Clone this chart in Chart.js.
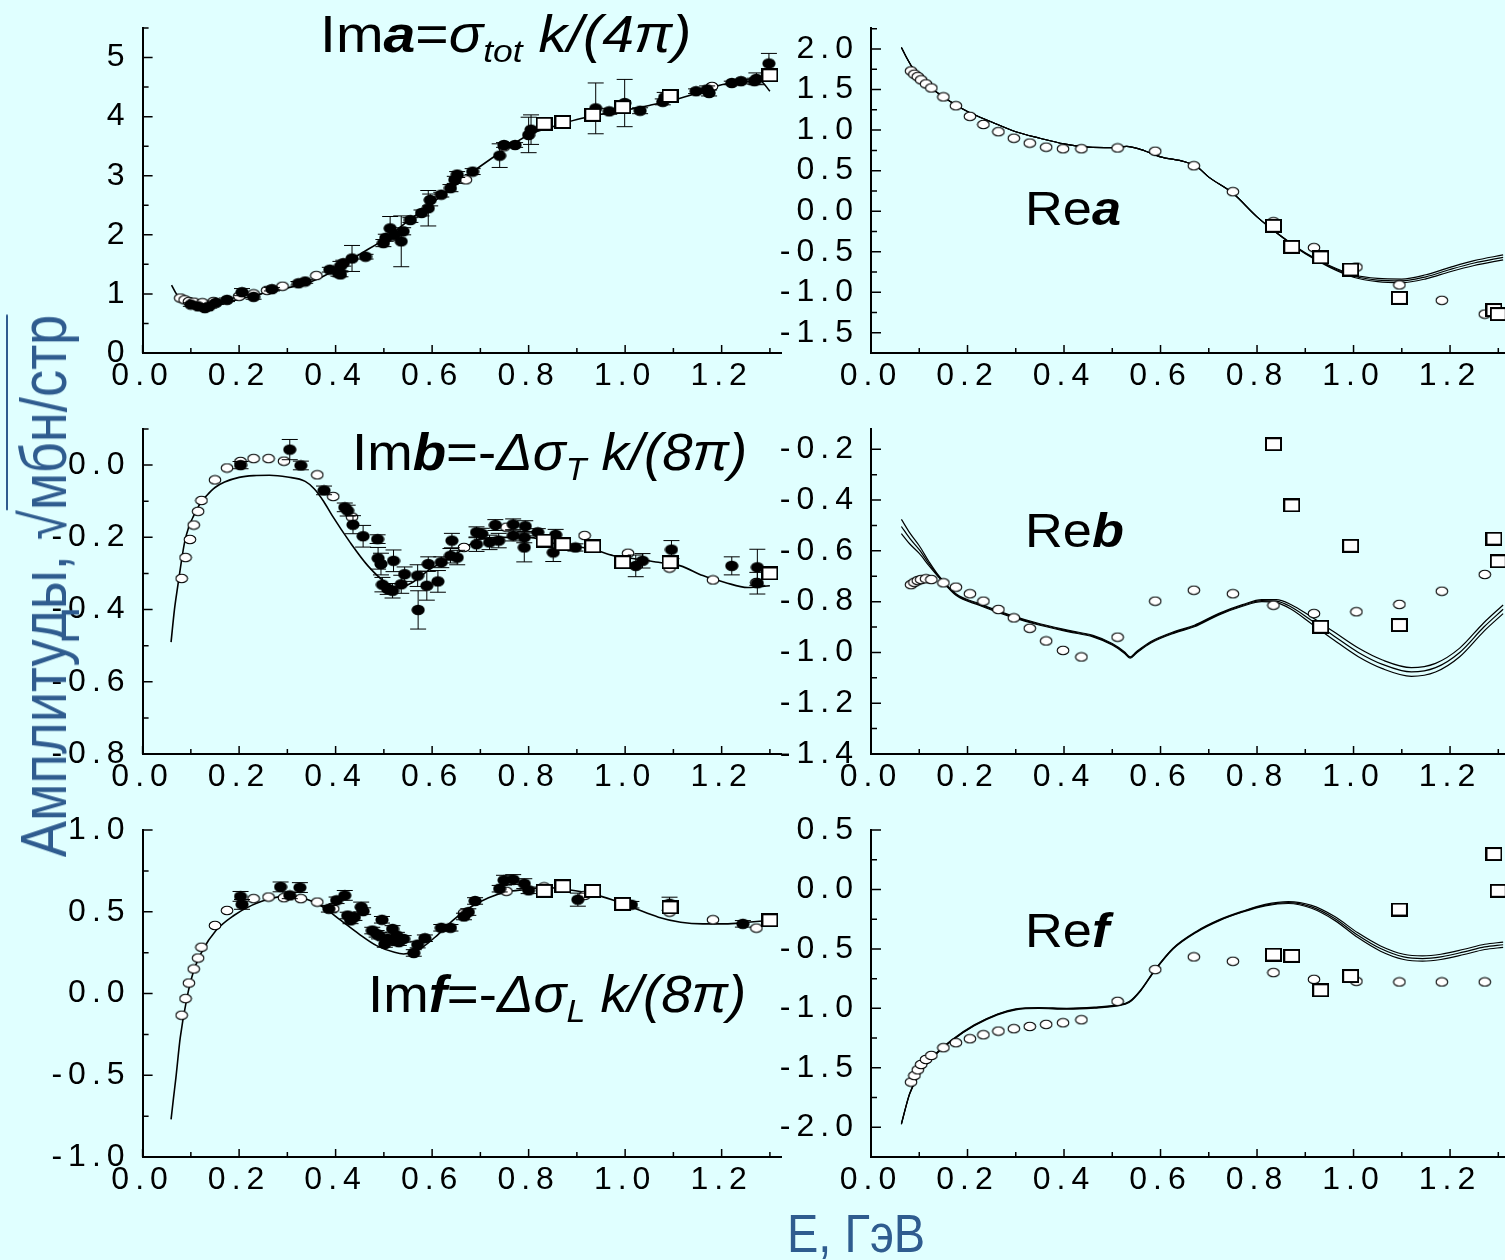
<!DOCTYPE html>
<html>
<head>
<meta charset="utf-8">
<script src="https://cdn.jsdelivr.net/npm/chart.js@4.4.1/dist/chart.umd.min.js"></script>
<style>
html, body { margin: 0; padding: 0; width: 1505px; height: 1260px; overflow: hidden; background: #E0FFFF; }
canvas.panel { position: absolute; left: 0; top: 0; }
.ttl { position: absolute; z-index: 5; font: 52px "Liberation Sans", Arial, sans-serif; line-height: 1; white-space: nowrap; color: #000; transform-origin: 0 0; transform: scaleX(1.05); }
.ttl.wide { transform: scaleX(1.1); }
.ttl.re { font-size: 48px; transform: scaleX(1.09); }
.ttl sub { font-size: 0.62em; vertical-align: -0.32em; line-height: 0; }
.blue { position: absolute; z-index: 5; font-family: "Liberation Sans", Arial, sans-serif; line-height: 1; white-space: nowrap; color: #2F5C8F; }
</style>
</head>
<body>

<div class="ttl wide" style="left:320px;top:8px">Im<b><i>a</i></b>=<i>σ<sub>tot</sub></i> <i>k/(4π)</i></div>
<div class="ttl re" style="left:1025px;top:185px">Re<b><i>a</i></b></div>
<div class="ttl" style="left:352px;top:426px">Im<b><i>b</i></b>=-<i>Δσ<sub>T</sub></i> <i>k/(8π)</i></div>
<div class="ttl re" style="left:1025px;top:507px">Re<b><i>b</i></b></div>
<div class="ttl" style="left:368px;top:968px">Im<b><i>f</i></b>=-<i>Δσ<sub>L</sub></i> <i>k/(8π)</i></div>
<div class="ttl re" style="left:1025px;top:907px">Re<b><i>f</i></b></div>

<div class="blue" style="left:44px;top:586px;transform:rotate(-90deg)">
  <div style="position:absolute;left:0;top:0;font-size:64px;transform:translate(-50%,-50%) scaleX(0.85)">Амплитуды, √<span style="text-decoration:overline;text-decoration-thickness:2px">мбн/стр</span></div>
</div>
<div class="blue" style="left:787px;top:1206px;font-size:54px;transform:scaleX(0.87);transform-origin:0 0">E, ГэВ</div>

<script>
// ---------- data ----------
// Im a (top left)
const imaCurveE = [0.06,0.07,0.08,0.1,0.12,0.14,0.16,0.2,0.25,0.3,0.35,0.4,0.45,0.5,0.55,0.6,0.65,0.7,0.75,0.8,0.85,0.9,0.95,1.0,1.05,1.1,1.15,1.2,1.25,1.28,1.3];
const imaCurve = [1.15,1.0,0.92,0.83,0.80,0.80,0.83,0.91,1.01,1.10,1.21,1.41,1.67,1.92,2.23,2.54,2.85,3.16,3.44,3.69,3.83,3.95,4.04,4.11,4.19,4.28,4.40,4.54,4.60,4.60,4.43];
const imaFillE = [0.10,0.115,0.129,0.138,0.152,0.175,0.206,0.23,0.268,0.323,0.337,0.388,0.406,0.41,0.416,0.41,0.434,0.462,0.499,0.504,0.513,0.522,0.536,0.54,0.555,0.578,0.592,0.596,0.619,0.638,0.647,0.652,0.684,0.74,0.749,0.772,0.80,0.805,0.939,0.967,0.999,1.031,1.078,1.082,1.147,1.17,1.174,1.221,1.24,1.268,1.272,1.298];
const imaFill = [0.82,0.79,0.76,0.79,0.85,0.90,1.03,0.95,1.08,1.18,1.21,1.41,1.35,1.47,1.52,1.33,1.60,1.63,1.86,1.95,2.11,2.0,1.89,2.06,2.25,2.37,2.45,2.59,2.68,2.79,2.93,3.02,3.07,3.34,3.52,3.52,3.69,3.78,4.14,4.09,4.23,4.10,4.25,4.33,4.43,4.46,4.40,4.57,4.60,4.60,4.64,4.90];
const imaFillErr = [0.03,0.03,0.04,0.03,0.03,0.03,0.06,0.04,0.03,0.03,0.03,0.04,0.05,0.08,0.05,0.04,0.22,0.04,0.06,0.06,0.2,0.06,0.43,0.06,0.04,0.05,0.3,0.1,0.04,0.06,0.06,0.05,0.05,0.2,0.04,0.04,0.3,0.25,0.43,0.05,0.4,0.05,0.05,0.08,0.04,0.06,0.05,0.03,0.03,0.05,0.1,0.17];
const imaOpenE = [0.078,0.087,0.096,0.106,0.124,0.147,0.2,0.23,0.258,0.29,0.36,0.67,0.749,1.18];
const imaOpen = [0.93,0.90,0.87,0.86,0.85,0.87,0.96,1.0,1.06,1.13,1.31,2.93,3.49,4.51];

// Im b (middle left)
const imbCurveE = [0.059,0.066,0.073,0.08,0.087,0.096,0.106,0.12,0.133,0.15,0.17,0.2,0.23,0.263,0.3,0.337,0.356,0.375,0.393,0.43,0.467,0.504,0.531,0.559,0.596,0.633,0.67,0.698,0.744,0.8,0.837,0.883,0.93,0.976,1.022,1.069,1.115,1.161,1.207,1.254,1.3];
const imbCurve = [-0.49,-0.40,-0.334,-0.27,-0.214,-0.17,-0.14,-0.105,-0.084,-0.062,-0.047,-0.034,-0.029,-0.028,-0.033,-0.045,-0.066,-0.1,-0.14,-0.214,-0.279,-0.325,-0.339,-0.325,-0.288,-0.26,-0.228,-0.205,-0.2,-0.2,-0.209,-0.223,-0.232,-0.251,-0.26,-0.269,-0.279,-0.306,-0.325,-0.339,-0.334];
const imbFillE = [0.203,0.305,0.328,0.376,0.419,0.425,0.436,0.457,0.487,0.488,0.494,0.497,0.508,0.518,0.52,0.536,0.543,0.571,0.57,0.592,0.589,0.612,0.619,0.641,0.638,0.652,0.692,0.703,0.692,0.719,0.731,0.738,0.768,0.768,0.793,0.791,0.791,0.819,0.851,0.856,0.897,1.022,1.036,1.096,1.221,1.274,1.274];
const imbFill = [0.0,0.043,-0.001,-0.07,-0.117,-0.126,-0.165,-0.197,-0.205,-0.258,-0.274,-0.331,-0.343,-0.348,-0.265,-0.33,-0.302,-0.401,-0.306,-0.274,-0.334,-0.322,-0.269,-0.209,-0.251,-0.256,-0.186,-0.19,-0.219,-0.214,-0.166,-0.209,-0.164,-0.195,-0.169,-0.228,-0.2,-0.186,-0.242,-0.193,-0.228,-0.279,-0.265,-0.234,-0.279,-0.283,-0.327];
const imbFillErr = [0.01,0.028,0.012,0.012,0.012,0.015,0.025,0.03,0.012,0.03,0.03,0.02,0.015,0.02,0.03,0.025,0.02,0.053,0.03,0.02,0.04,0.03,0.015,0.02,0.02,0.02,0.015,0.015,0.02,0.02,0.015,0.02,0.015,0.015,0.015,0.04,0.015,0.01,0.025,0.015,0.01,0.03,0.02,0.025,0.025,0.05,0.03];
const imbOpenE = [0.081,0.089,0.098,0.106,0.115,0.122,0.15,0.175,0.203,0.23,0.261,0.293,0.362,0.395,0.434,0.666,0.754,0.916,1.006,1.092,1.182,1.272];
const imbOpen = [-0.314,-0.256,-0.206,-0.166,-0.128,-0.098,-0.041,-0.008,0.01,0.018,0.018,0.011,-0.027,-0.087,-0.144,-0.228,-0.172,-0.195,-0.244,-0.285,-0.318,-0.325];

// Im f (bottom left)
const imfCurveE = [0.059,0.064,0.069,0.078,0.092,0.106,0.124,0.152,0.189,0.226,0.263,0.3,0.337,0.374,0.411,0.448,0.485,0.522,0.541,0.569,0.606,0.643,0.68,0.717,0.754,0.791,0.837,0.883,0.93,0.976,1.022,1.069,1.115,1.161,1.207,1.254,1.30];
const imfCurve = [-0.77,-0.64,-0.516,-0.27,-0.025,0.139,0.262,0.385,0.477,0.539,0.58,0.594,0.58,0.529,0.447,0.365,0.293,0.252,0.242,0.262,0.344,0.447,0.529,0.586,0.621,0.635,0.648,0.635,0.611,0.57,0.518,0.467,0.436,0.426,0.426,0.436,0.447];
const imfFillE = [0.203,0.206,0.286,0.305,0.326,0.386,0.402,0.419,0.425,0.431,0.439,0.453,0.457,0.476,0.485,0.49,0.496,0.502,0.508,0.518,0.522,0.527,0.531,0.541,0.562,0.57,0.585,0.619,0.638,0.666,0.675,0.689,0.74,0.749,0.768,0.791,0.80,0.902,1.013,1.092,1.244];
const imfFill = [0.594,0.545,0.652,0.60,0.648,0.518,0.57,0.60,0.477,0.447,0.467,0.529,0.504,0.385,0.365,0.354,0.451,0.303,0.334,0.395,0.324,0.354,0.314,0.334,0.248,0.299,0.338,0.402,0.402,0.471,0.498,0.566,0.641,0.693,0.697,0.672,0.631,0.574,0.543,0.549,0.426];
const imfFillErr = [0.03,0.03,0.03,0.02,0.03,0.02,0.02,0.03,0.02,0.02,0.02,0.03,0.02,0.02,0.02,0.02,0.02,0.02,0.03,0.02,0.02,0.02,0.02,0.02,0.02,0.02,0.02,0.02,0.02,0.02,0.02,0.02,0.02,0.03,0.03,0.03,0.02,0.04,0.02,0.04,0.02];
const imfOpenE = [0.081,0.089,0.096,0.106,0.115,0.122,0.15,0.175,0.23,0.261,0.293,0.328,0.362,0.395,0.666,0.754,0.832,0.916,1.006,1.092,1.182,1.272];
const imfOpen = [-0.133,-0.031,0.064,0.15,0.217,0.283,0.416,0.508,0.58,0.59,0.586,0.58,0.559,0.518,0.492,0.625,0.652,0.60,0.543,0.498,0.451,0.40];

// squares, left column
const leftSqE = [0.832,0.871,0.933,0.995,1.093,1.30];
const imaSq = [3.88,3.91,4.03,4.16,4.35,4.70];
const imbSq = [-0.209,-0.219,-0.225,-0.269,-0.269,-0.30];
const imfSq = [0.628,0.656,0.627,0.548,0.527,0.448];

// right column: shared energies of circles and squares
const rightCircE = [0.083,0.09,0.097,0.104,0.114,0.125,0.15,0.176,0.205,0.233,0.264,0.296,0.329,0.363,0.398,0.436,0.511,0.589,0.669,0.75,0.834,0.918,1.006,1.095,1.183,1.272];
const rightSqE = [0.834,0.872,0.932,0.994,1.095,1.291,1.30];

// Re a
const reaCurveE = [0.063,0.075,0.09,0.1,0.125,0.15,0.2,0.25,0.3,0.35,0.4,0.45,0.5,0.53,0.56,0.6,0.65,0.675,0.7,0.75,0.8,0.85,0.9,0.95,1.0,1.05,1.1,1.15,1.2,1.25,1.31];
const reaCurve = [2.02,1.88,1.73,1.65,1.52,1.41,1.23,1.10,0.98,0.90,0.83,0.79,0.785,0.80,0.76,0.67,0.61,0.55,0.42,0.22,-0.07,-0.31,-0.52,-0.68,-0.80,-0.85,-0.86,-0.81,-0.72,-0.64,-0.57];
const reaSpread = [0,0,0,0,0,0,0,0,0,0,0,0,0,0,0,0,0,0,0,0,0,0.003,0.006,0.01,0.015,0.02,0.022,0.025,0.027,0.03,0.03];
const reaOpen = [1.73,1.69,1.66,1.62,1.57,1.52,1.41,1.30,1.17,1.07,0.98,0.90,0.84,0.79,0.77,0.77,0.78,0.74,0.56,0.24,-0.13,-0.45,-0.69,-0.91,-1.10,-1.27];
const reaSq = [-0.18,-0.44,-0.57,-0.72,-1.07,-1.22,-1.27];

// Re b
const rebCurveE = [0.063,0.08,0.1,0.12,0.14,0.176,0.224,0.29,0.35,0.41,0.46,0.5,0.525,0.537,0.55,0.58,0.63,0.67,0.72,0.77,0.81,0.84,0.87,0.91,0.96,1.01,1.06,1.12,1.17,1.22,1.27,1.31];
const rebCurve = [-0.504,-0.55,-0.595,-0.65,-0.70,-0.772,-0.811,-0.857,-0.89,-0.916,-0.936,-0.968,-1.0,-1.02,-1.0,-0.96,-0.92,-0.896,-0.85,-0.815,-0.796,-0.798,-0.82,-0.87,-0.936,-1.0,-1.047,-1.077,-1.06,-1.0,-0.90,-0.83];
const rebSpread = [0.028,0.022,0.015,0.008,0.003,0.003,0.003,0.003,0.003,0.003,0.003,0.003,0.003,0.003,0.003,0.003,0.003,0.003,0.003,0.003,0.004,0.006,0.009,0.013,0.016,0.017,0.017,0.017,0.017,0.017,0.017,0.017];
const rebOpen = [-0.733,-0.724,-0.717,-0.713,-0.71,-0.713,-0.726,-0.743,-0.769,-0.798,-0.831,-0.864,-0.905,-0.955,-0.992,-1.018,-0.94,-0.798,-0.755,-0.769,-0.814,-0.847,-0.84,-0.811,-0.759,-0.693];
const rebSq = [-0.18,-0.421,-0.899,-0.58,-0.892,-0.552,-0.641];

// Re f
const refCurveE = [0.063,0.08,0.1,0.128,0.167,0.214,0.262,0.3,0.348,0.406,0.463,0.511,0.535,0.559,0.588,0.626,0.674,0.722,0.769,0.817,0.865,0.913,0.961,1.009,1.056,1.104,1.143,1.181,1.229,1.272,1.31];
const refCurve = [-1.972,-1.719,-1.551,-1.41,-1.27,-1.143,-1.051,-1.008,-0.997,-1.003,-0.994,-0.975,-0.947,-0.848,-0.68,-0.497,-0.357,-0.258,-0.188,-0.132,-0.11,-0.146,-0.244,-0.385,-0.497,-0.567,-0.581,-0.567,-0.525,-0.483,-0.465];
const refSpread = [0.004,0.004,0.004,0.004,0.004,0.004,0.004,0.004,0.004,0.004,0.004,0.004,0.004,0.004,0.004,0.004,0.004,0.004,0.004,0.006,0.008,0.012,0.016,0.02,0.022,0.022,0.022,0.022,0.022,0.022,0.022];
const refOpen = [-1.62,-1.565,-1.517,-1.472,-1.43,-1.396,-1.331,-1.289,-1.256,-1.222,-1.191,-1.171,-1.152,-1.135,-1.121,-1.096,-0.941,-0.674,-0.567,-0.604,-0.699,-0.756,-0.772,-0.778,-0.778,-0.778];
const refSq = [-0.548,-0.559,-0.848,-0.728,-0.169,0.298,-0.011];

// ---------- layout ----------
const CW = 1520, CH = 1260;      // every panel canvas covers the page
const Y_W = 100, X_H = 50;       // fixed axis box sizes
const X_MAX = 1.323;
const AREA = {
    ima: {l: 142.6, r: 781, t: 28, b: 353},
    rea: {l: 871, r: 1509.4, t: 28, b: 353},
    imb: {l: 142.6, r: 781, t: 429, b: 754},
    reb: {l: 871, r: 1509.4, t: 429, b: 754},
    imf: {l: 142.6, r: 781, t: 830, b: 1157},
    ref: {l: 871, r: 1509.4, t: 830, b: 1157}
};

Chart.defaults.font.family = '"Liberation Sans", Arial, sans-serif';
Chart.defaults.font.size = 32;
Chart.defaults.color = '#000';

// markers drawn once, used as point styles
function makeMarker(kind) {
    const c = document.createElement('canvas');
    if (kind === 'square') {
        c.width = 17; c.height = 14;
        const g = c.getContext('2d');
        g.fillStyle = '#fff'; g.fillRect(1, 1, 15, 12);
        g.lineWidth = 2; g.strokeStyle = '#000'; g.strokeRect(1, 1, 15, 12);
    } else if (kind === 'fill') {
        c.width = 14; c.height = 12;
        const g = c.getContext('2d');
        g.beginPath(); g.ellipse(7, 6, 6.6, 5.3, 0, 0, Math.PI * 2);
        g.fillStyle = '#000'; g.fill();
    } else {
        c.width = 14; c.height = 11;
        const g = c.getContext('2d');
        g.beginPath(); g.ellipse(7, 5.5, 5.8, 4.3, 0, 0, Math.PI * 2);
        g.fillStyle = '#fff'; g.fill();
        g.lineWidth = 1.1; g.strokeStyle = '#000'; g.stroke();
    }
    return c;
}
const MK_FILL = makeMarker('fill');
const MK_OPEN = makeMarker('open');
const MK_SQ = makeMarker('square');

function pts(xs, ys) {
    return xs.map((x, i) => ({x: x, y: ys[i]}));
}
function markerSet(xs, ys, marker, errs) {
    const ds = {type: 'scatter', data: pts(xs, ys), pointStyle: marker, pointRadius: 7, showLine: false, clip: false};
    if (errs) ds.errors = errs;
    return ds;
}
function curveSet(xs, ys, width) {
    return {type: 'line', data: pts(xs, ys), borderColor: '#000', borderWidth: width || 1.6, pointRadius: 0,
        cubicInterpolationMode: 'monotone', fill: false, clip: false};
}
function bandSets(xs, ys, spread) {
    return [
        curveSet(xs, ys.map((v, i) => v + spread[i]), 1.2),
        curveSet(xs, ys, 1.2),
        curveSet(xs, ys.map((v, i) => v - spread[i]), 1.2)
    ];
}

function fmt(v, dec) {
    if (Math.abs(v) < 1e-9) v = 0;
    return v.toFixed(dec);
}

// ---------- plugins ----------
const spacing = {
    id: 'spacing',
    beforeDraw(chart) {
        chart.ctx.letterSpacing = '6px';
    }
};

// inward major and minor ticks
const innerTicks = {
    id: 'innerTicks',
    afterDraw(chart, args, o) {
        const {ctx, chartArea: a, scales: {x, y}} = chart;
        ctx.save();
        ctx.strokeStyle = '#000';
        ctx.lineWidth = 1.5;
        ctx.beginPath();
        for (let i = Math.ceil(x.min / o.xMinor - 1e-6); i * o.xMinor <= x.max + 1e-9; i++) {
            const v = i * o.xMinor;
            const major = Math.abs(v / o.xStep - Math.round(v / o.xStep)) < 1e-6;
            const px = x.getPixelForValue(v);
            ctx.moveTo(px, a.bottom);
            ctx.lineTo(px, a.bottom - (major ? 8 : 5));
        }
        for (let i = Math.ceil(y.min / o.yMinor - 1e-3); i * o.yMinor <= y.max + 1e-6; i++) {
            const v = i * o.yMinor;
            const major = Math.abs(v / o.yStep - Math.round(v / o.yStep)) < 1e-6;
            const py = y.getPixelForValue(v);
            ctx.moveTo(a.left, py);
            ctx.lineTo(a.left + (major ? 10 : 6), py);
        }
        ctx.stroke();
        ctx.restore();
    }
};

// vertical error bars for datasets that carry an "errors" array
const errorBars = {
    id: 'errorBars',
    beforeDatasetDraw(chart, args) {
        const ds = chart.data.datasets[args.index];
        if (!ds.errors) return;
        const {ctx, scales: {x, y}} = chart;
        ctx.save();
        ctx.strokeStyle = '#000';
        ctx.lineWidth = 1;
        ctx.beginPath();
        ds.data.forEach((p, i) => {
            const e = ds.errors[i];
            const px = x.getPixelForValue(p.x);
            const top = y.getPixelForValue(p.y + e);
            const bot = y.getPixelForValue(p.y - e);
            ctx.moveTo(px, top); ctx.lineTo(px, bot);
            ctx.moveTo(px - 8, top); ctx.lineTo(px + 8, top);
            ctx.moveTo(px - 8, bot); ctx.lineTo(px + 8, bot);
        });
        ctx.stroke();
        ctx.restore();
    }
};

// ---------- panels ----------
function buildPanel(key, yAxis, datasets) {
    const a = AREA[key];
    const cv = document.createElement('canvas');
    cv.width = CW;
    cv.height = CH;
    cv.className = 'panel';
    document.body.appendChild(cv);
    return new Chart(cv.getContext('2d'), {
        type: 'scatter',
        data: {datasets: datasets},
        options: {
            responsive: false,
            animation: false,
            events: [],
            layout: {
                padding: {left: a.l - Y_W, right: CW - a.r, top: a.t, bottom: CH - a.b - X_H}
            },
            plugins: {
                legend: {display: false},
                tooltip: {enabled: false},
                innerTicks: {xStep: 0.2, xMinor: 0.1, yStep: yAxis.step, yMinor: yAxis.minor}
            },
            scales: {
                x: {
                    type: 'linear',
                    min: 0,
                    max: X_MAX,
                    grid: {display: false, drawTicks: false},
                    border: {display: true, color: '#000', width: 2},
                    ticks: {
                        stepSize: 0.2, includeBounds: false, autoSkip: false,
                        maxRotation: 0, minRotation: 0, padding: 4, color: '#000',
                        callback: v => fmt(v, 1)
                    },
                    afterFit: s => { s.height = X_H; s.paddingLeft = 0; s.paddingRight = 0; }
                },
                y: {
                    type: 'linear',
                    min: yAxis.min,
                    max: yAxis.max,
                    grid: {display: false, drawTicks: false},
                    border: {display: true, color: '#000', width: 2},
                    ticks: {
                        stepSize: yAxis.step, includeBounds: false, autoSkip: false,
                        padding: 12, color: '#000',
                        callback: v => fmt(v, yAxis.dec)
                    },
                    afterFit: s => { s.width = Y_W; s.paddingTop = 0; s.paddingBottom = 0; }
                }
            }
        },
        plugins: [spacing, errorBars, innerTicks]
    });
}

buildPanel('ima', {min: 0, max: 5.5, step: 1, minor: 0.5, dec: 0}, [
    markerSet(leftSqE, imaSq, MK_SQ),
    markerSet(imaFillE, imaFill, MK_FILL, imaFillErr),
    markerSet(imaOpenE, imaOpen, MK_OPEN),
    curveSet(imaCurveE, imaCurve)
]);

buildPanel('rea', {min: -1.75, max: 2.26, step: 0.5, minor: 0.25, dec: 1}, [
    markerSet(rightSqE, reaSq, MK_SQ),
    markerSet(rightCircE, reaOpen, MK_OPEN),
    ...bandSets(reaCurveE, reaCurve, reaSpread)
]);

buildPanel('imb', {min: -0.8, max: 0.1, step: 0.2, minor: 0.1, dec: 1}, [
    markerSet(leftSqE, imbSq, MK_SQ),
    markerSet(imbFillE, imbFill, MK_FILL, imbFillErr),
    markerSet(imbOpenE, imbOpen, MK_OPEN),
    curveSet(imbCurveE, imbCurve)
]);

buildPanel('reb', {min: -1.4001, max: -0.12, step: 0.2, minor: 0.1, dec: 1}, [
    markerSet(rightSqE, rebSq, MK_SQ),
    markerSet(rightCircE, rebOpen, MK_OPEN),
    ...bandSets(rebCurveE, rebCurve, rebSpread)
]);

buildPanel('imf', {min: -1, max: 1, step: 0.5, minor: 0.25, dec: 1}, [
    markerSet(leftSqE, imfSq, MK_SQ),
    markerSet(imfFillE, imfFill, MK_FILL, imfFillErr),
    markerSet(imfOpenE, imfOpen, MK_OPEN),
    curveSet(imfCurveE, imfCurve)
]);

buildPanel('ref', {min: -2.25, max: 0.5, step: 0.5, minor: 0.25, dec: 1}, [
    markerSet(rightSqE, refSq, MK_SQ),
    markerSet(rightCircE, refOpen, MK_OPEN),
    ...bandSets(refCurveE, refCurve, refSpread)
]);
</script>
</body>
</html>
